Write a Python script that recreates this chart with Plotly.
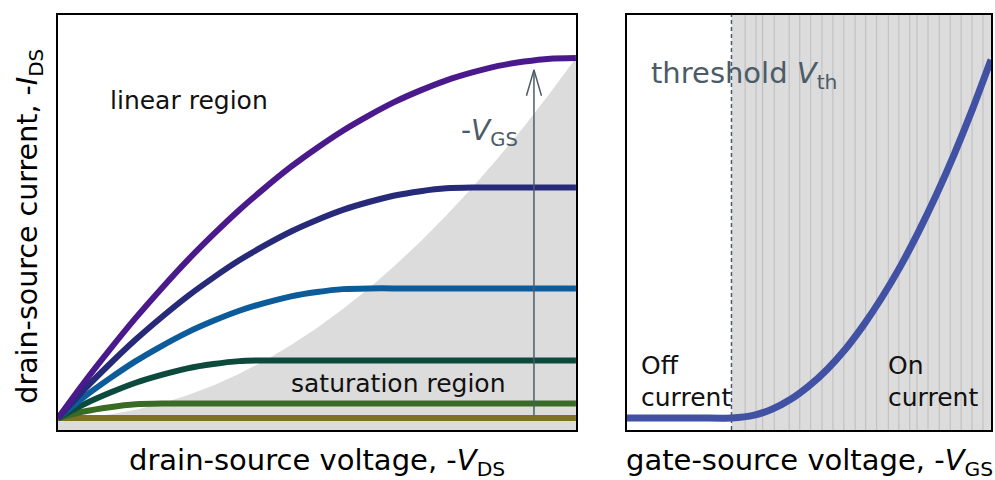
import plotly.graph_objects as go

# ---------------- data ----------------
# Left panel: output characteristics, normalised -V_DS and -I_DS
vds = [0.00, 0.05, 0.10, 0.15, 0.20, 0.25, 0.30, 0.35, 0.40, 0.45, 0.50,
       0.55, 0.60, 0.65, 0.70, 0.75, 0.80, 0.85, 0.90, 0.95, 1.00]
ids_vgs6 = [0.000, 0.098, 0.190, 0.278, 0.360, 0.438, 0.510, 0.578, 0.640, 0.698, 0.750,
            0.798, 0.840, 0.878, 0.910, 0.938, 0.960, 0.978, 0.990, 0.998, 1.000]
ids_vgs5 = [0.000, 0.078, 0.150, 0.218, 0.280, 0.338, 0.390, 0.438, 0.480, 0.518, 0.550,
            0.578, 0.600, 0.618, 0.630, 0.638, 0.640, 0.640, 0.640, 0.640, 0.640]
ids_vgs4 = [0.000, 0.058, 0.110, 0.158, 0.200, 0.238, 0.270, 0.298, 0.320, 0.338, 0.350,
            0.358, 0.360, 0.360, 0.360, 0.360, 0.360, 0.360, 0.360, 0.360, 0.360]
ids_vgs3 = [0.000, 0.038, 0.070, 0.098, 0.120, 0.138, 0.150, 0.158, 0.160, 0.160, 0.160,
            0.160, 0.160, 0.160, 0.160, 0.160, 0.160, 0.160, 0.160, 0.160, 0.160]
ids_vgs2 = [0.000, 0.018, 0.030, 0.038, 0.040, 0.040, 0.040, 0.040, 0.040, 0.040, 0.040,
            0.040, 0.040, 0.040, 0.040, 0.040, 0.040, 0.040, 0.040, 0.040, 0.040]
ids_vgs1 = [0.000] * 21
# saturation boundary (-V_DS = -V_GS - V_th)
sat_edge = [0.000, 0.003, 0.010, 0.023, 0.040, 0.063, 0.090, 0.123, 0.160, 0.203, 0.250,
            0.303, 0.360, 0.423, 0.490, 0.563, 0.640, 0.723, 0.810, 0.903, 1.000]
curves = [ids_vgs1, ids_vgs2, ids_vgs3, ids_vgs4, ids_vgs5, ids_vgs6]
curve_colors = ["#7d7124", "#3a6b26", "#0b4a3c", "#0c5c9c", "#262a78", "#4a1a8c"]
arrow_x = 0.919
arrow_y = [0.008, 0.967]

# Right panel: transfer characteristic
vgs = [0.0, 0.1, 0.2, 0.2875, 0.35, 0.40, 0.45, 0.50, 0.55, 0.60, 0.65,
       0.70, 0.75, 0.80, 0.85, 0.90, 0.95, 1.00]
ids_transfer = [0.0, 0.0, 0.0, 0.0, 0.008, 0.025, 0.052, 0.089, 0.135, 0.191, 0.258,
                0.334, 0.419, 0.515, 0.620, 0.735, 0.860, 0.995]
v_th = 0.2875
hatch_x = [0.325, 0.355, 0.373, 0.405, 0.446, 0.475, 0.505, 0.536, 0.566, 0.596, 0.627,
           0.656, 0.686, 0.718, 0.747, 0.777, 0.797, 0.827, 0.858, 0.888, 0.918, 0.948, 0.978]

Y_RANGE = [-0.0333, 1.1194]
SLATE = "#4c5b68"
GRAY = "#dcdcdc"
FONT = "DejaVu Sans"

fig = go.Figure()

# saturation region shading (left)
fig.add_trace(go.Scatter(
    x=vds + [vds[-1], vds[0]], y=sat_edge + [Y_RANGE[0], Y_RANGE[0]],
    mode="lines", fill="toself", fillcolor=GRAY, line=dict(width=0),
    hoverinfo="skip", showlegend=False, xaxis="x", yaxis="y"))

for ys, col in zip(curves, curve_colors):
    fig.add_trace(go.Scatter(
        x=vds, y=ys, mode="lines",
        line=dict(color=col, width=6, shape="spline", smoothing=0.6),
        showlegend=False, xaxis="x", yaxis="y"))

# -V_GS arrow
fig.add_trace(go.Scatter(
    x=[arrow_x, arrow_x], y=arrow_y, mode="lines",
    line=dict(color=SLATE, width=1.5), showlegend=False, xaxis="x", yaxis="y"))
fig.add_trace(go.Scatter(
    x=[arrow_x - 0.0145, arrow_x, arrow_x + 0.0145],
    y=[arrow_y[1] - 0.072, arrow_y[1], arrow_y[1] - 0.072], mode="lines",
    line=dict(color=SLATE, width=1.5), showlegend=False, xaxis="x", yaxis="y"))

# right panel curve
fig.add_trace(go.Scatter(
    x=vgs, y=ids_transfer, mode="lines",
    line=dict(color="#4151a3", width=7, shape="spline", smoothing=0.6),
    showlegend=False, xaxis="x2", yaxis="y2"))

shapes = [dict(type="rect", xref="x2", yref="y2 domain", x0=v_th, x1=1, y0=0, y1=1,
               fillcolor=GRAY, line=dict(width=0), layer="below")]
for hx in hatch_x:
    shapes.append(dict(type="line", xref="x2", yref="y2 domain", x0=hx, x1=hx, y0=0, y1=1,
                       line=dict(color="#bdbdbd", width=1), layer="below"))
shapes.append(dict(type="line", xref="x2", yref="y2 domain", x0=v_th, x1=v_th, y0=0, y1=1,
                   line=dict(color=SLATE, width=1.5, dash="4px,3px"), layer="below"))

axis_common = dict(showline=True, mirror=True, linecolor="black", linewidth=2,
                   showticklabels=False, showgrid=False, zeroline=False, ticks="")

annotations = [
    dict(text="linear region", x=0.252, y=0.881, xref="x", yref="y", showarrow=False,
         xanchor="center", font=dict(size=25, color="#111111", family=FONT)),
    dict(text="saturation region", x=0.657, y=0.097, xref="x", yref="y", showarrow=False,
         xanchor="center", font=dict(size=25, color="#111111", family=FONT)),
    dict(text="-<i>V</i><sub>GS</sub>", x=0.892, y=0.792, xref="x", yref="y", showarrow=False,
         xanchor="right", font=dict(size=28, color=SLATE, family=FONT)),
    dict(text="threshold <i>V</i><sub>th</sub>", x=0.060, y=0.953, xref="x2", yref="y2",
         showarrow=False, xanchor="left", font=dict(size=29, color=SLATE, family=FONT)),
    dict(text="Off", x=0.033, y=0.147, xref="x2", yref="y2", showarrow=False, xanchor="left",
         font=dict(size=25, color="#111111", family=FONT)),
    dict(text="current", x=0.033, y=0.058, xref="x2", yref="y2", showarrow=False, xanchor="left",
         font=dict(size=25, color="#111111", family=FONT)),
    dict(text="On", x=0.712, y=0.147, xref="x2", yref="y2", showarrow=False, xanchor="left",
         font=dict(size=25, color="#111111", family=FONT)),
    dict(text="current", x=0.712, y=0.058, xref="x2", yref="y2", showarrow=False, xanchor="left",
         font=dict(size=25, color="#111111", family=FONT)),
    dict(text="drain-source voltage, -<i>V</i><sub>DS</sub>", x=0.278, y=-0.078,
         xref="paper", yref="paper", showarrow=False, xanchor="center", yanchor="middle",
         font=dict(size=29, color="black", family=FONT)),
    dict(text="gate-source voltage, -<i>V</i><sub>GS</sub>", x=0.805, y=-0.078,
         xref="paper", yref="paper", showarrow=False, xanchor="center", yanchor="middle",
         font=dict(size=29, color="black", family=FONT)),
    dict(text="drain-source current, -<i>I</i><sub>DS</sub>", x=-0.030, y=0.49,
         xref="paper", yref="paper", showarrow=False, textangle=-90,
         xanchor="center", yanchor="middle",
         font=dict(size=28.5, color="black", family=FONT)),
]

fig.update_layout(
    width=995, height=480,
    margin=dict(l=58, r=2, t=15, b=50),
    paper_bgcolor="white", plot_bgcolor="rgba(0,0,0,0)",
    xaxis=dict(domain=[0, 0.5551], range=[0, 1], anchor="y", **axis_common),
    yaxis=dict(domain=[0, 1], range=Y_RANGE, anchor="x", **axis_common),
    xaxis2=dict(domain=[0.6096, 1], range=[0, 1], anchor="y2", **axis_common),
    yaxis2=dict(domain=[0, 1], range=Y_RANGE, anchor="x2", **axis_common),
    shapes=shapes, annotations=annotations,
    font=dict(family=FONT),
)

fig.write_html("out.html")
